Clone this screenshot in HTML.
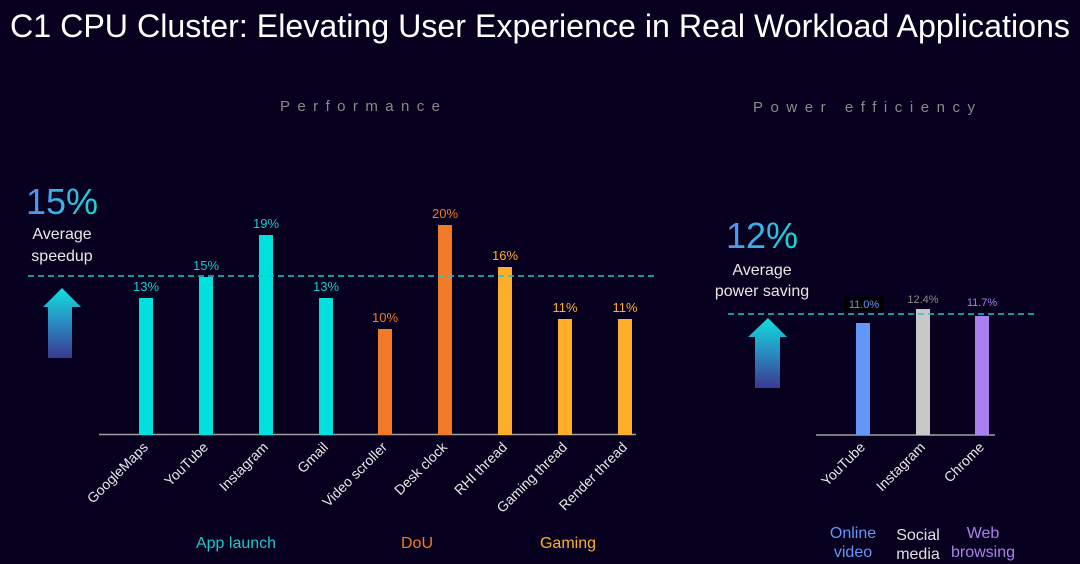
<!DOCTYPE html>
<html><head><meta charset="utf-8"><style>
html,body{margin:0;padding:0;background:#07001e;}
svg{display:block;font-family:"Liberation Sans",Arial,sans-serif;}
</style></head><body>
<svg width="1080" height="564" viewBox="0 0 1080 564" xmlns="http://www.w3.org/2000/svg">
<defs>
<linearGradient id="ag" x1="0" y1="0" x2="0" y2="1">
<stop offset="0" stop-color="#10e0e0"/><stop offset="0.5" stop-color="#2a8ac0"/><stop offset="1" stop-color="#3a3a90"/>
</linearGradient>
<linearGradient id="tg" x1="0" y1="0" x2="1" y2="0">
<stop offset="0" stop-color="#5b8cf0"/><stop offset="1" stop-color="#10dcdc"/>
</linearGradient>
</defs>
<rect width="1080" height="564" fill="#07001e"/>
<text x="10" y="37" fill="#ffffff" font-size="32" textLength="1060" lengthAdjust="spacingAndGlyphs">C1 CPU Cluster: Elevating User Experience in Real Workload Applications</text>
<text x="280" y="111" fill="#8a8a8a" font-size="15" textLength="160" lengthAdjust="spacing">Performance</text>
<text x="753" y="112" fill="#8a8a8a" font-size="15" textLength="222" lengthAdjust="spacing">Power efficiency</text>

<!-- left -->
<text x="62" y="214" fill="url(#tg)" font-size="36" text-anchor="middle">15%</text>
<text x="62" y="239" fill="#e8e8e8" font-size="16" text-anchor="middle">Average</text>
<text x="62" y="261" fill="#e8e8e8" font-size="16" text-anchor="middle">speedup</text>
<polygon points="62,288 81,307 72,307 72,358 48,358 48,307 43,307" fill="url(#ag)"/>
<line x1="99" y1="434.5" x2="636" y2="434.5" stroke="#a0a0a0" stroke-width="1.5"/>
<g fill="#00e0dc">
<rect x="139" y="298" width="14" height="137"/>
<rect x="199" y="277" width="14" height="158"/>
<rect x="259" y="235" width="14" height="200"/>
<rect x="319" y="298" width="14" height="137"/>
</g>
<rect x="378" y="329" width="14" height="106" fill="#f07a28"/>
<rect x="438" y="225" width="14" height="210" fill="#f07a28"/>
<g fill="#ffae2a">
<rect x="498" y="267" width="14" height="168"/>
<rect x="558" y="319" width="14" height="116"/>
<rect x="618" y="319" width="14" height="116"/>
</g>
<line x1="28" y1="276" x2="656" y2="276" stroke="#19c8cc" stroke-width="1.5" stroke-dasharray="6,4"/>
<g font-size="13" text-anchor="middle">
<text x="146" y="291" fill="#19c8cc">13%</text>
<text x="206" y="270" fill="#19c8cc">15%</text>
<text x="266" y="228" fill="#19c8cc">19%</text>
<text x="326" y="291" fill="#19c8cc">13%</text>
<text x="385" y="322" fill="#f07a28">10%</text>
<text x="445" y="218" fill="#f07a28">20%</text>
<text x="505" y="260" fill="#ffae2a">16%</text>
<text x="565" y="312" fill="#ffae2a">11%</text>
<text x="625" y="312" fill="#ffae2a">11%</text>
</g>
<g font-size="14" fill="#e8e8e8" text-anchor="end">
<text transform="translate(149,448) rotate(-45)">GoogleMaps</text>
<text transform="translate(209,448) rotate(-45)">YouTube</text>
<text transform="translate(269,448) rotate(-45)">Instagram</text>
<text transform="translate(329,448) rotate(-45)">Gmail</text>
<text transform="translate(388,448) rotate(-45)">Video scroller</text>
<text transform="translate(448,448) rotate(-45)">Desk clock</text>
<text transform="translate(508,448) rotate(-45)">RHI thread</text>
<text transform="translate(568,448) rotate(-45)">Gaming thread</text>
<text transform="translate(628,448) rotate(-45)">Render thread</text>
</g>
<text x="236" y="548" fill="#19c8cc" font-size="16" text-anchor="middle">App launch</text>
<text x="417" y="548" fill="#f07a28" font-size="16" text-anchor="middle">DoU</text>
<text x="568" y="548" fill="#ffae2a" font-size="16" text-anchor="middle">Gaming</text>

<!-- right -->
<text x="762" y="248" fill="url(#tg)" font-size="36" text-anchor="middle">12%</text>
<text x="762" y="275" fill="#e8e8e8" font-size="16" text-anchor="middle">Average</text>
<text x="762" y="296" fill="#e8e8e8" font-size="16" text-anchor="middle">power saving</text>
<polygon points="768,318 787,337 780,337 780,388 755,388 755,337 748,337" fill="url(#ag)"/>
<line x1="816" y1="435" x2="995" y2="435" stroke="#a0a0a0" stroke-width="1.5"/>
<rect x="856" y="323" width="14" height="112" fill="#6496f8"/>
<rect x="916" y="309" width="14" height="126" fill="#c8c8c8"/>
<rect x="975" y="316" width="14" height="119" fill="#aa80f0"/>
<line x1="728" y1="314" x2="1038" y2="314" stroke="#19c8cc" stroke-width="1.5" stroke-dasharray="6,4"/>
<rect x="844" y="297" width="40" height="14" fill="#000000"/>
<g font-size="11" text-anchor="middle">
<text x="864" y="308" fill="#6496f8">11.0%</text>
<text x="923" y="303" fill="#8a8a8a">12.4%</text>
<text x="982" y="306" fill="#aa80f0">11.7%</text>
</g>
<g font-size="14" fill="#e8e8e8" text-anchor="end">
<text transform="translate(866,448) rotate(-45)">YouTube</text>
<text transform="translate(926,448) rotate(-45)">Instagram</text>
<text transform="translate(985,448) rotate(-45)">Chrome</text>
</g>
<g font-size="16" text-anchor="middle">
<text x="853" y="538" fill="#6496f8">Online</text>
<text x="853" y="557" fill="#6496f8">video</text>
<text x="918" y="540" fill="#e0e0e0">Social</text>
<text x="918" y="559" fill="#e0e0e0">media</text>
<text x="983" y="538" fill="#aa80f0">Web</text>
<text x="983" y="557" fill="#aa80f0">browsing</text>
</g>
</svg>
</body></html>
